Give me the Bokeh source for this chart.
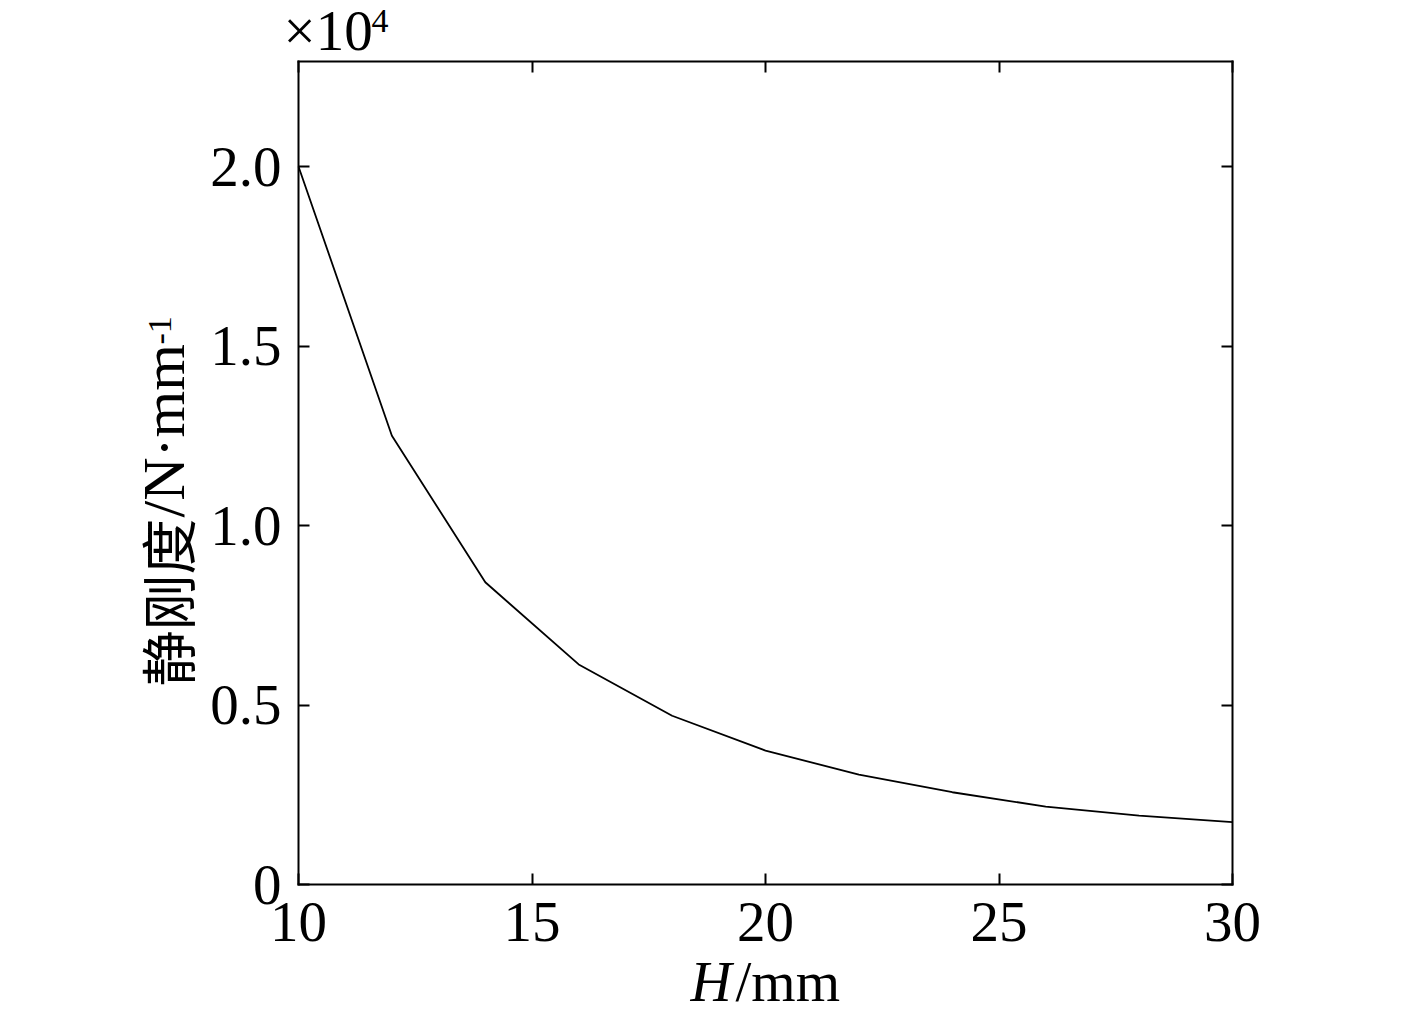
import math
from bokeh.plotting import figure
from bokeh.models import Range1d, LinearAxis, FixedTicker, Label
from bokeh.embed import file_html
from bokeh.resources import INLINE

# ---- data (static stiffness, x10^4 N/mm, vs H in mm) ----
H_mm = [10, 12, 14, 16, 18, 20, 22, 24, 26, 28, 30]
stiffness = [2.0, 1.25, 0.842, 0.613, 0.47, 0.373, 0.306, 0.257, 0.217, 0.192, 0.174]

x_ticks = [10, 15, 20, 25, 30]
y_ticks = [0, 0.5, 1.0, 1.5, 2.0]
y_tick_labels = ["0", "0.5", "1.0", "1.5", "2.0"]

X0, X1 = 10, 30          # axis box limits
Y0, Y1 = 0, 2.2925

# ---- layout (canvas pixels) ----
W, Hh = 1417, 1012
PX_L, PX_R, PY_T, PY_B = 298, 1232, 61, 884
kx = (PX_R - PX_L) / (X1 - X0)
ky = (PY_B - PY_T) / (Y1 - Y0)

SERIF = "Liberation Serif"
FS = "57px"

p = figure(width=W, height=Hh, output_backend="svg", toolbar_location=None,
           x_range=Range1d(X0 - PX_L / kx, X1 + (W - PX_R) / kx),
           y_range=Range1d(Y0 - (Hh - PY_B) / ky, Y1 + PY_T / ky),
           min_border=0, min_border_left=0, min_border_right=0,
           min_border_top=0, min_border_bottom=0)
p.grid.visible = False
p.background_fill_color = "white"
p.border_fill_color = "white"
p.outline_line_color = None

def style_axis(ax, labels=True):
    ax.axis_line_color = "black"
    ax.axis_line_width = 2
    ax.axis_line_cap = "square"
    ax.major_tick_in = 11
    ax.major_tick_out = 0
    ax.major_tick_line_width = 2
    ax.minor_tick_line_color = None
    ax.major_label_text_font = SERIF
    ax.major_label_text_font_size = FS
    ax.major_label_text_color = "black"
    if not labels:
        ax.major_label_text_font_size = "0px"
        ax.major_label_text_color = None

xa = p.xaxis[0]
ya = p.yaxis[0]
xa.ticker = FixedTicker(ticks=x_ticks)
ya.ticker = FixedTicker(ticks=y_ticks)
ya.major_label_overrides = {t: s for t, s in zip(y_ticks, y_tick_labels)}
style_axis(xa)
style_axis(ya)
xa.fixed_location = Y0
xa.bounds = (X0, X1)
ya.fixed_location = X0
ya.bounds = (Y0, Y1)
xa.major_label_standoff = 18
ya.major_label_standoff = 17

top = LinearAxis(ticker=FixedTicker(ticks=x_ticks), fixed_location=Y1, bounds=(X0, X1))
right = LinearAxis(ticker=FixedTicker(ticks=y_ticks), fixed_location=X1, bounds=(Y0, Y1))
style_axis(top, False)
style_axis(right, False)
p.add_layout(top, "above")
p.add_layout(right, "right")

p.line(H_mm, stiffness, line_color="black", line_width=1.8)

# pixel -> data helpers (canvas pixel coordinates)
def dx(px):
    return X0 + (px - PX_L) / kx
def dy(py):
    return Y0 + (PY_B - py) / ky

SHIFT = 0.38  # baseline compensation (fraction of font size)

def lab(text, px, py, size, angle=0, style="normal", font=SERIF, shift=SHIFT):
    s = float(size.replace("px", ""))
    if angle == 0:
        py = py - shift * s
    else:
        px = px - shift * s
    p.add_layout(Label(x=dx(px), y=dy(py), text=text, text_font=font,
                       text_font_size=size, text_font_style=style,
                       text_color="black", angle=angle,
                       text_align="left", text_baseline="alphabetic"))

# x axis title: H/mm
lab("H", 690, 1003, FS, style="italic")
lab("/mm", 735, 1003, FS)

# y axis title: 静刚度/N·mm^-1 (rotated)
lab("静刚度", 190, 686, "56px", angle=math.pi / 2, font="Noto Sans CJK SC", shift=0.45)
lab("/N·mm", 186, 517, "60px", angle=math.pi / 2)
lab("-1", 172, 344, "34px", angle=math.pi / 2)

# multiplier x10^4
lab("×10", 283, 52, FS)
lab("4", 371, 33, "34px")

open("out.html", "w").write(file_html(p, INLINE))
